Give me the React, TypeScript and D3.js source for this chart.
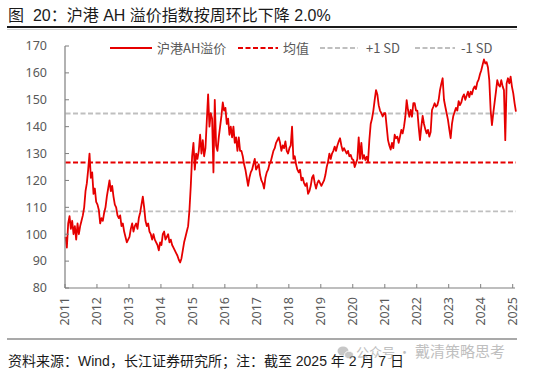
import React from "react";
import * as d3 from "d3";

// ---- Data (half-monthly readings of the AH premium index) ----
const v2011 = [99, 95, 104, 106.7, 102, 105, 100, 103, 98, 104, 100, 103, 105, 107, 110, 116, 119, 124, 130, 121, 123, 115, 117, 112];
const v2012 = [111, 109, 104, 106, 105, 108, 110, 114, 117, 120, 116, 118, 114, 111, 110, 107, 106, 107, 103, 104, 101, 99, 97, 98];
const v2013 = [99, 102, 104, 101, 103, 104, 102, 106, 108, 111, 114, 110, 105, 103, 104, 101, 100, 98, 100, 98, 97, 96, 94, 97];
const v2014 = [96, 100, 101, 98, 99, 100, 97, 98, 96, 95, 94, 93, 92, 90.5, 89.5, 91, 94, 97, 99, 101, 103, 109, 118, 129];
const v2015 = [134, 124, 130, 128, 131, 137, 130, 135, 129, 132, 142, 152, 140, 145, 143, 123, 150, 133, 131, 136, 140, 144, 149, 146];
const v2016 = [147, 141, 143, 137, 140, 136, 140, 134, 136, 131, 136, 131, 131, 129, 126, 124, 121, 118, 121, 123, 124, 126, 128, 124];
const v2017 = [125, 126, 122, 120, 119, 117, 121, 123, 124, 126, 127, 129, 131, 132, 134, 135, 136, 134, 131, 133, 132, 134.5, 131, 130];
const v2018 = [132, 133, 140, 128, 129, 126, 124, 123, 124, 120, 121, 119, 118, 119, 115, 116, 118, 121, 122, 119, 117, 119, 120, 119];
const v2019 = [118, 119, 120, 122, 125, 127, 130, 128, 130, 131, 132.6, 131, 133, 134.5, 135.7, 133, 131, 132, 131, 130, 131, 129, 129.5, 128];
const v2020 = [127.6, 125, 126.4, 128, 136, 128, 134, 128, 129.4, 127.6, 128.8, 127, 135, 141, 143, 146, 150, 153.6, 152, 148, 146, 145, 143.8, 145];
const v2021 = [145, 140, 135, 133, 131.5, 134, 132, 137, 135.7, 136.3, 134, 136.3, 138.8, 137.5, 140, 143.7, 149.9, 146.2, 143.7, 146.2, 143.7, 148.7, 148.7, 146];
const v2022 = [146, 140, 135, 140, 144, 141, 139, 137.5, 138.8, 136.3, 138, 146.2, 147.4, 148.7, 147.4, 148, 149.9, 153.6, 156, 158, 150, 147.4, 145, 142.5];
const v2023 = [139, 135.7, 141, 144, 145.5, 147, 146, 149.5, 148, 149, 151, 152, 150, 151.5, 153, 151, 153, 152, 154, 155, 154, 156.5, 157.5, 159.5];
const v2024 = [161, 163, 165, 163.5, 164, 162, 157.3, 146.2, 140.6, 145, 149, 153, 157.3, 155.5, 154.9, 157.3, 155, 153.6, 135, 156.1, 158, 156.1, 158.6, 154.9];
const v2025 = [152.4, 148.7, 145.6];

const premiumByYear = [v2011, v2012, v2013, v2014, v2015, v2016, v2017, v2018, v2019, v2020, v2021, v2022, v2023, v2024, v2025];
const premium = premiumByYear.flat();

const firstDate = new Date(2011, 0, 7);
const lastDate = new Date(2025, 1, 7);

const meanValue = 126.7;
const sdValue = 18.2;

const yTicks = [80, 90, 100, 110, 120, 130, 140, 150, 160, 170];
const xTickYears = [2011, 2012, 2013, 2014, 2015, 2016, 2017, 2018, 2019, 2020, 2021, 2022, 2023, 2024, 2025];

const titleText = "图  20：沪港 AH 溢价指数按周环比下降 2.0%";
const sourceText = "资料来源：Wind，长江证券研究所；注：截至 2025 年 2 月 7 日";
const legendLabels = ["沪港AH溢价", "均值", "+1 SD", "-1 SD"];

const RED = "#e60000";
const GREY_DASH = "#bfbfbf";
const AXIS = "#7f7f7f";
const LABEL = "#595959";
const CJK = "'Noto Sans CJK SC', 'Noto Sans', sans-serif";
const NUM = "'Noto Sans', 'Open Sans', 'Noto Sans CJK SC', sans-serif";

export default function App() {
  const left = 65;
  const right = 515;
  const top = 46;
  const bottom = 288;

  const x = d3
    .scaleTime()
    .domain([new Date(2011, 0, 1), new Date(2025, 0, 1)])
    .range([65, 512.7]);
  const y = d3.scaleLinear().domain([80, 170]).range([bottom, top]);

  const step = (lastDate.getTime() - firstDate.getTime()) / (premium.length - 1);
  const points = premium.map((v, i) => ({ d: new Date(firstDate.getTime() + i * step), v }));

  const line = d3
    .line<{ d: Date; v: number }>()
    .x((p) => x(p.d))
    .y((p) => y(p.v));

  const x0 = x(firstDate);
  const x1 = x(lastDate);

  const refLines = [
    { v: meanValue, color: RED, w: 2 },
    { v: meanValue + sdValue, color: GREY_DASH, w: 1.8 },
    { v: meanValue - sdValue, color: GREY_DASH, w: 1.8 },
  ];

  const legendY = 48;
  const legend = [
    { x0: 110, x1: 152, tx: 157, color: RED, dash: undefined, w: 1.8 },
    { x0: 238, x1: 278, tx: 283, color: RED, dash: "5,2.5", w: 2 },
    { x0: 320, x1: 358, tx: 366, color: GREY_DASH, dash: "5,2.5", w: 1.8 },
    { x0: 415, x1: 455, tx: 461, color: GREY_DASH, dash: "5,2.5", w: 1.8 },
  ];

  return (
    <svg
      width={550}
      height={375}
      style={{ position: "absolute", left: 0, top: 0, background: "#fff" }}
    >
      {/* Title */}
      <text x={8} y={21} fontSize={16} fill="#1a1a1a" fontFamily={"'Liberation Sans', 'Noto Sans CJK SC', sans-serif"} style={{ whiteSpace: "pre" }}>
        {titleText}
      </text>
      <line x1={7} x2={517} y1={27} y2={27} stroke="#1a1a1a" strokeWidth={2} />
      <line x1={7} x2={517} y1={29.5} y2={29.5} stroke="#c8c8c8" strokeWidth={0.8} />

      {/* Legend */}
      {legend.map((l, i) => (
        <g key={i}>
          <line x1={l.x0} x2={l.x1} y1={legendY} y2={legendY} stroke={l.color} strokeWidth={l.w} strokeDasharray={l.dash} />
          <text x={l.tx} y={legendY} dy="0.35em" fontSize={13} fill={LABEL} fontFamily={CJK}>
            {legendLabels[i]}
          </text>
        </g>
      ))}

      {/* Reference lines */}
      {refLines.map((r, i) => (
        <line
          key={i}
          x1={x0}
          x2={x1}
          y1={y(r.v)}
          y2={y(r.v)}
          stroke={r.color}
          strokeWidth={r.w}
          strokeDasharray="5,2.5"
        />
      ))}

      {/* Series */}
      <path d={line(points) || ""} fill="none" stroke={RED} strokeWidth={1.8} strokeLinejoin="round" />

      {/* Y axis */}
      <line x1={left} x2={left} y1={top} y2={bottom} stroke={AXIS} strokeWidth={1.2} />
      {yTicks.map((t) => (
        <g key={t}>
          <line x1={left} x2={left + 4} y1={y(t)} y2={y(t)} stroke={AXIS} strokeWidth={1} />
          <text x={47} y={y(t)} dy="0.35em" textAnchor="end" fontSize={12.5} fill={LABEL} fontFamily={NUM}>
            {t}
          </text>
        </g>
      ))}

      {/* X axis */}
      <line x1={left} x2={right} y1={bottom} y2={bottom} stroke={AXIS} strokeWidth={1.2} />
      {xTickYears.map((yr) => {
        const px = x(new Date(yr, 0, 1));
        return (
          <g key={yr}>
            <line x1={px} x2={px} y1={bottom} y2={bottom - 4} stroke={AXIS} strokeWidth={1} />
            <text
              transform={`translate(${px},${297}) rotate(-90)`}
              dy="0.35em"
              textAnchor="end"
              fontSize={12.5}
              fill={LABEL}
              fontFamily={NUM}
            >
              {yr}
            </text>
          </g>
        );
      })}

      {/* Footer */}
      <line x1={7} x2={517} y1={339} y2={339} stroke="#555" strokeWidth={1.2} />
      <text x={8} y={366} fontSize={14} fill="#1a1a1a" fontFamily={"'Liberation Sans', 'Noto Sans CJK SC', sans-serif"}>
        {sourceText}
      </text>

      {/* Watermark */}
      <g opacity={0.55}>
        <ellipse cx={343} cy={351} rx={5.5} ry={4.5} fill="#9a9a9a" />
        <ellipse cx={349} cy={355} rx={4.5} ry={3.8} fill="#9a9a9a" stroke="#fff" strokeWidth={0.8} />
        <text x={356} y={357} fontSize={13} fill="#8c8c8c" fontFamily={CJK}>
          公众号 ·
        </text>
        <text x={415} y={357} fontSize={15} fill="#8c8c8c" fontFamily={CJK}>
          戴清策略思考
        </text>
      </g>
    </svg>
  );
}
